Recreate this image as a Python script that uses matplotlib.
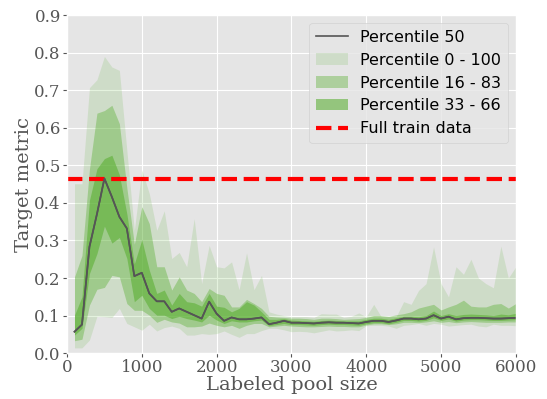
import numpy as np
import matplotlib
matplotlib.use("Agg")
import matplotlib.pyplot as plt

plt.style.use("ggplot")
plt.rcParams["font.family"] = "DejaVu Serif"

# labeled pool sizes
pool_size = list(range(100, 6001, 100))

p50 = [0.057, 0.076, 0.283, 0.370, 0.465, 0.416, 0.363, 0.332, 0.205, 0.214,
       0.159, 0.138, 0.138, 0.110, 0.119, 0.110, 0.101, 0.092, 0.137, 0.105,
       0.086, 0.095, 0.090, 0.090, 0.092, 0.095, 0.077, 0.081, 0.086, 0.081,
       0.081, 0.080, 0.079, 0.081, 0.082, 0.081, 0.081, 0.080, 0.079, 0.083,
       0.086, 0.086, 0.083, 0.087, 0.092, 0.092, 0.090, 0.092, 0.101, 0.092,
       0.097, 0.090, 0.093, 0.094, 0.094, 0.093, 0.092, 0.092, 0.093, 0.094]

p0 = [0.014, 0.014, 0.035, 0.098, 0.097, 0.095, 0.119, 0.079, 0.070, 0.061,
      0.077, 0.059, 0.068, 0.072, 0.066, 0.048, 0.048, 0.052, 0.050, 0.052,
      0.059, 0.050, 0.042, 0.052, 0.052, 0.060, 0.066, 0.066, 0.062, 0.057,
      0.058, 0.057, 0.054, 0.058, 0.062, 0.059, 0.060, 0.062, 0.060, 0.073,
      0.074, 0.074, 0.072, 0.066, 0.074, 0.076, 0.079, 0.074, 0.079, 0.077,
      0.072, 0.074, 0.076, 0.077, 0.072, 0.070, 0.077, 0.074, 0.074, 0.073]

p100 = [0.451, 0.451, 0.707, 0.728, 0.790, 0.762, 0.753, 0.540, 0.327, 0.488,
        0.425, 0.327, 0.379, 0.252, 0.268, 0.230, 0.358, 0.185, 0.287, 0.230,
        0.227, 0.243, 0.169, 0.267, 0.169, 0.207, 0.110, 0.104, 0.100, 0.097,
        0.097, 0.097, 0.095, 0.105, 0.104, 0.104, 0.095, 0.098, 0.107, 0.097,
        0.130, 0.097, 0.097, 0.097, 0.137, 0.130, 0.167, 0.185, 0.283, 0.185,
        0.150, 0.230, 0.210, 0.250, 0.200, 0.185, 0.174, 0.285, 0.200, 0.230]

p16 = [0.033, 0.037, 0.128, 0.170, 0.175, 0.207, 0.203, 0.132, 0.114, 0.114,
       0.101, 0.082, 0.090, 0.083, 0.080, 0.070, 0.070, 0.072, 0.080, 0.074,
       0.070, 0.074, 0.066, 0.074, 0.079, 0.079, 0.070, 0.072, 0.074, 0.072,
       0.071, 0.070, 0.070, 0.071, 0.072, 0.071, 0.071, 0.070, 0.070, 0.075,
       0.078, 0.078, 0.076, 0.078, 0.082, 0.082, 0.081, 0.083, 0.086, 0.082,
       0.084, 0.081, 0.083, 0.084, 0.083, 0.082, 0.082, 0.082, 0.083, 0.083]

p83 = [0.203, 0.260, 0.490, 0.639, 0.646, 0.660, 0.611, 0.440, 0.290, 0.390,
       0.345, 0.230, 0.230, 0.168, 0.203, 0.168, 0.159, 0.137, 0.172, 0.159,
       0.154, 0.123, 0.123, 0.143, 0.132, 0.119, 0.098, 0.096, 0.095, 0.093,
       0.093, 0.092, 0.090, 0.093, 0.093, 0.092, 0.090, 0.091, 0.092, 0.095,
       0.100, 0.100, 0.098, 0.102, 0.105, 0.110, 0.120, 0.125, 0.130, 0.115,
       0.123, 0.130, 0.141, 0.125, 0.123, 0.123, 0.130, 0.132, 0.120, 0.132]

p33 = [0.048, 0.066, 0.212, 0.265, 0.338, 0.293, 0.308, 0.252, 0.137, 0.154,
       0.119, 0.101, 0.101, 0.092, 0.098, 0.092, 0.088, 0.083, 0.101, 0.088,
       0.079, 0.086, 0.083, 0.083, 0.086, 0.088, 0.073, 0.076, 0.079, 0.076,
       0.076, 0.075, 0.074, 0.076, 0.077, 0.076, 0.076, 0.075, 0.074, 0.078,
       0.081, 0.081, 0.078, 0.082, 0.087, 0.087, 0.085, 0.087, 0.094, 0.087,
       0.091, 0.085, 0.088, 0.089, 0.089, 0.088, 0.087, 0.087, 0.088, 0.089]

p66 = [0.101, 0.150, 0.407, 0.491, 0.518, 0.527, 0.475, 0.371, 0.238, 0.302,
       0.221, 0.159, 0.168, 0.128, 0.159, 0.137, 0.134, 0.125, 0.159, 0.125,
       0.122, 0.110, 0.119, 0.137, 0.128, 0.110, 0.090, 0.090, 0.092, 0.088,
       0.087, 0.086, 0.085, 0.087, 0.088, 0.087, 0.086, 0.086, 0.086, 0.090,
       0.093, 0.093, 0.090, 0.094, 0.098, 0.098, 0.097, 0.100, 0.112, 0.100,
       0.105, 0.100, 0.103, 0.104, 0.103, 0.102, 0.100, 0.104, 0.102, 0.106]

full_train = 0.463

x = np.array(pool_size)
green = "#5aaf32"

fig = plt.figure(figsize=(5.47, 3.99), dpi=100)
ax = fig.add_axes([0.1225, 0.115, 0.8205, 0.847])

ax.plot(x, p50, c="#555555", lw=1.2, label="Percentile 50")
ax.fill_between(x, p0, p100, color=green, alpha=0.16, lw=0, label="Percentile 0 - 100")
ax.fill_between(x, p16, p83, color=green, alpha=0.4, lw=0, label="Percentile 16 - 83")
ax.fill_between(x, p33, p66, color=green, alpha=0.58, lw=0, label="Percentile 33 - 66")
ax.axhline(full_train, c="red", ls="--", lw=3, label="Full train data")
ax.plot(x, p50, c="#555555", lw=1.2)

ax.set_xlim(0, 6000)
ax.set_ylim(0, 0.9)
ax.tick_params(labelsize=12, pad=1.5, length=3)
ax.set_xlabel("Labeled pool size", fontsize=14, labelpad=0)
ax.set_ylabel("Target metric", fontsize=14, labelpad=1)
ax.legend(loc="upper right", prop={"family": "DejaVu Sans", "size": 11.5})

plt.savefig("out.png")
